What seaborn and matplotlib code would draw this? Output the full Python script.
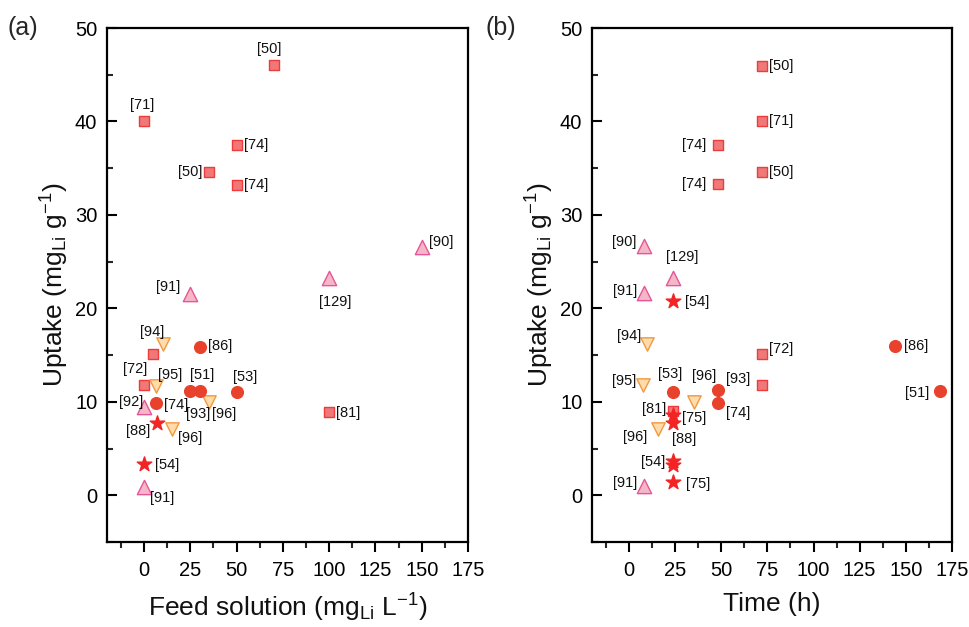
import matplotlib
matplotlib.use('Agg')
import matplotlib.pyplot as plt
import seaborn as sns
import pandas as pd
from matplotlib.ticker import MultipleLocator

# ---------------- Panel (a): uptake vs feed solution ----------------
sq_x_a = [70, 0, 50, 35, 50, 5, 0, 100]
sq_y_a = [46, 40, 37.5, 34.6, 33.2, 15.1, 11.8, 8.9]
ci_x_a = [30, 25, 30, 50, 6.3]
ci_y_a = [15.9, 11.2, 11.2, 11.0, 9.9]
st_x_a = [7, 0]
st_y_a = [7.7, 3.3]
up_x_a = [150, 100, 25, 0, 0]
up_y_a = [26.6, 23.3, 21.5, 9.4, 0.9]
dn_x_a = [10, 6.7, 35, 15]
dn_y_a = [16.2, 11.7, 10.0, 7.1]

lab_txt_a = ['[50]', '[71]', '[74]', '[50]', '[74]', '[90]', '[129]', '[91]',
             '[94]', '[86]', '[72]', '[95]', '[51]', '[53]', '[92]', '[74]',
             '[93]', '[96]', '[81]', '[88]', '[96]', '[54]', '[91]']
lab_x_a = [67.4, -1, 54, 31.5, 54, 154, 103, 19.6,
           4.5, 34.4, -5, 14, 31.3, 54.7, -6.7, 17.2,
           29.3, 43, 103.8, -3, 24.8, 6, 10]
lab_y_a = [47.8, 41.8, 37.5, 34.6, 33.2, 27.1, 20.7, 22.3,
           17.5, 16.0, 13.5, 12.9, 12.9, 12.7, 10.0, 9.7,
           8.7, 8.7, 8.8, 6.9, 6.1, 3.2, -0.25]
lab_ha_a = ['center', 'center', 'left', 'right', 'left', 'left', 'center', 'right',
            'center', 'left', 'center', 'center', 'center', 'center', 'center', 'center',
            'center', 'center', 'left', 'center', 'center', 'left', 'center']

# ---------------- Panel (b): uptake vs time ----------------
sq_x_b = [72, 72, 48, 72, 48, 72, 72, 24]
sq_y_b = [45.9, 40, 37.5, 34.6, 33.3, 15.1, 11.8, 9.0]
ci_x_b = [144, 24, 48, 48, 168.5]
ci_y_b = [16, 11.1, 11.3, 9.9, 11.2]
st_x_b = [24, 24, 24, 24, 24, 24]
st_y_b = [20.8, 8.55, 7.7, 3.7, 3.2, 1.45]
up_x_b = [8, 24, 8, 8]
up_y_b = [26.7, 23.3, 21.6, 1.0]
dn_x_b = [10, 7.4, 35.4, 15.5]
dn_y_b = [16.2, 11.8, 10.0, 7.1]

lab_txt_b = ['[50]', '[71]', '[74]', '[50]', '[74]', '[90]', '[129]', '[91]',
             '[54]', '[94]', '[86]', '[72]', '[95]', '[53]', '[96]', '[93]',
             '[74]', '[51]', '[81]', '[75]', '[88]', '[96]', '[54]', '[75]', '[91]']
lab_x_b = [76, 76, 42, 76, 42, 4.3, 29, 4.3,
           30.5, 6.5, 148.8, 76, 3.8, 22.4, 41, 59,
           59, 162.7, 20, 29, 30, 3.4, 19.7, 30.9, 4.3]
lab_y_b = [45.9, 40, 37.5, 34.6, 33.3, 27.1, 25.5, 21.9,
           20.7, 17.0, 16.0, 15.6, 12.2, 13.0, 12.75, 12.4,
           8.8, 10.9, 9.2, 8.3, 6.0, 6.2, 3.6, 1.2, 1.3]
lab_ha_b = ['left', 'left', 'right', 'left', 'right', 'right', 'center', 'right',
            'left', 'right', 'left', 'left', 'right', 'center', 'center', 'center',
            'center', 'right', 'right', 'left', 'center', 'center', 'right', 'left', 'right']

x_ticks = [0, 25, 50, 75, 100, 125, 150, 175]
y_ticks = [0, 10, 20, 30, 40, 50]

# ---------------- styling ----------------
sns.set_style('ticks')
plt.rcParams['font.family'] = ['Liberation Sans', 'DejaVu Sans']
plt.rcParams['mathtext.fontset'] = 'custom'
plt.rcParams['mathtext.rm'] = 'Liberation Sans'
plt.rcParams['mathtext.it'] = 'Liberation Sans:italic'
plt.rcParams['mathtext.bf'] = 'Liberation Sans:bold'

marker_styles = {
    'square': dict(marker='s', s=57, color='#F07878', edgecolor='#EE3B3B', zorder=3),
    'up': dict(marker='^', s=106, color='#F5B7C6', edgecolor='#E5559A', zorder=4),
    'down': dict(marker='v', s=92, color='#FFDCAA', edgecolor='#F2983E', zorder=4),
    'circle': dict(marker='o', s=71, color='#E8412C', edgecolor='#E8412C', zorder=5),
    'star': dict(marker='*', s=120, color='#F22424', edgecolor='#F22424', zorder=6),
}

fig = plt.figure(figsize=(9.7, 6.27), dpi=100)
axA = fig.add_axes([0.1103, 0.1356, 0.3722, 0.8197])
axB = fig.add_axes([0.6103, 0.1356, 0.3711, 0.8197])

panels = [
    (axA, {'square': (sq_x_a, sq_y_a), 'up': (up_x_a, up_y_a), 'down': (dn_x_a, dn_y_a),
           'circle': (ci_x_a, ci_y_a), 'star': (st_x_a, st_y_a)},
     (lab_txt_a, lab_x_a, lab_y_a, lab_ha_a),
     r'Feed solution (mg$_{\mathrm{Li}}$ L$^{-1}$)'),
    (axB, {'square': (sq_x_b, sq_y_b), 'up': (up_x_b, up_y_b), 'down': (dn_x_b, dn_y_b),
           'circle': (ci_x_b, ci_y_b), 'star': (st_x_b, st_y_b)},
     (lab_txt_b, lab_x_b, lab_y_b, lab_ha_b),
     'Time (h)'),
]

for ax, groups, labs, xlabel in panels:
    for key, (xs, ys) in groups.items():
        df = pd.DataFrame({'x': xs, 'y': ys})
        st = marker_styles[key]
        sns.scatterplot(data=df, x='x', y='y', ax=ax, marker=st['marker'], s=st['s'],
                        color=st['color'], edgecolor=st['edgecolor'], linewidth=1.0,
                        zorder=st['zorder'], legend=False)
    for t, lx, ly, ha in zip(*labs):
        ax.text(lx, ly, t, ha=ha, va='center', fontsize=10.5, color='#111111', zorder=7)

    ax.set_xlim(-20, 175)
    ax.set_ylim(-5, 50)
    ax.set_xticks(x_ticks)
    ax.set_yticks(y_ticks)
    ax.xaxis.set_minor_locator(MultipleLocator(12.5))
    ax.yaxis.set_minor_locator(MultipleLocator(5))
    for sp in ax.spines.values():
        sp.set_visible(True)
        sp.set_linewidth(1.6)
        sp.set_color('black')
    ax.tick_params(axis='x', which='major', direction='out', length=7, width=1.5,
                   labelsize=14.5, pad=7, colors='black')
    ax.tick_params(axis='x', which='minor', direction='out', length=4, width=1.5)
    ax.tick_params(axis='y', which='major', direction='in', length=7, width=1.5,
                   labelsize=14.5, pad=7, colors='black')
    ax.tick_params(axis='y', which='minor', direction='in', length=4, width=1.5)
    ax.set_xlabel(xlabel, fontsize=19, labelpad=8, color='#111111')
    ax.set_ylabel(r'Uptake (mg$_{\mathrm{Li}}$ g$^{-1}$)', fontsize=19, labelpad=3,
                  color='#111111')
    ax.grid(False)

fig.text(0.008, 0.956, '(a)', fontsize=18, ha='left', va='center')
fig.text(0.501, 0.956, '(b)', fontsize=18, ha='left', va='center')

fig.savefig('out.png', dpi=100)
